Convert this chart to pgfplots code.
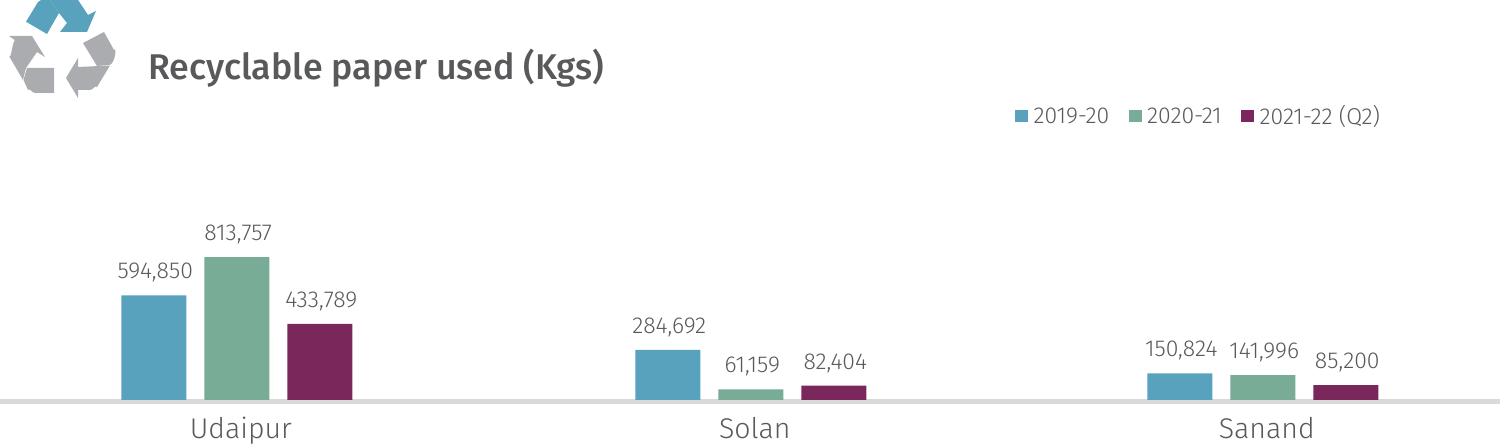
\documentclass[border=0pt]{standalone}
\usepackage{pgfplots}
\pgfplotsset{compat=1.18}
\usepackage{fontspec}
\setmainfont{Fira Sans Light}
\newfontfamily\titlefont{Fira Sans Medium}
\definecolor{cblue}{HTML}{58A2BD}
\definecolor{cgreen}{HTML}{78AC97}
\definecolor{cplum}{HTML}{7A285B}
\definecolor{cgrey}{HTML}{ABACAF}
\definecolor{ctext}{HTML}{58595B}
\definecolor{cbase}{HTML}{D9D9D9}
\begin{document}
\begin{tikzpicture}[x=1pt,y=1pt]
\path[use as bounding box] (0,0) rectangle (1500,444);
\begin{axis}[
  at={(0pt,44pt)}, anchor=south west,
  scale only axis,
  width=1500pt,
  height=400pt,
  xmin=-0.4615, xmax=2.4625,
  ymin=0, ymax=2276600,
  clip=false,
  axis x line=bottom,
  axis y line=none,
  axis x line shift=1.5pt,
  axis line style={draw=cbase,line width=5pt,-},
  xtick=data,
  xticklabels={Udaipur,Solan,Sanand},
  major tick length=0pt,
  x tick label style={font=\fontsize{28.5}{29}\selectfont,text=ctext,xshift=4pt,yshift=-12.5pt},
  ybar=18pt,
  bar width=65pt,
  nodes near coords,
  nodes near coords style={font=\fontsize{23}{24}\selectfont,text=ctext,xshift=1.5pt,yshift=9.5pt,
    /pgf/number format/.cd,fixed,precision=0,1000 sep={,},assume math mode=true},
  legend columns=3,
  legend cell align=left,
  legend style={draw=none,fill=none,at={(1015pt,284pt)},anchor=west,
    font=\fontsize{23}{24}\selectfont\color{ctext},
    inner sep=0pt,outer sep=0pt,
    /tikz/every odd column/.append style={column sep=3.5pt},
    /tikz/every even column/.append style={column sep=17.5pt}},
  legend image code/.code={\fill[#1] (0pt,-6pt) rectangle (13pt,6pt);},
]
\addplot[draw=none,fill=cblue] coordinates {(0,594850) (1.002,284692) (2,150824)};
\addlegendentry{2019-20}
\addplot[draw=none,fill=cgreen] coordinates {(0,813757) (1.002,61159) (2,141996)};
\addlegendentry{2020-21}
\addplot[draw=none,fill=cplum] coordinates {(0,433789) (1.002,82404) (2,85200)};
\addlegendentry{2021-22 (Q2)}
\end{axis}
\node[anchor=west,inner sep=0pt,text=ctext,font=\titlefont\fontsize{35.8}{36}\selectfont] at (148,376) {Recyclable paper used (Kgs)};
% recycling icon, picture pixels with y flipped
\begin{scope}[yshift=444pt,y=-1pt]
\fill[cblue] (26,21.7) -- (38,2) to[out=60,in=180] (45,0) -- (50,0) -- (59,13) -- (47,34) -- cycle;
\fill[cblue] (50,0) -- (78,0) -- (88,15) -- (96,11) -- (87,32) -- (60,32) -- (67,23) -- (59,13) -- cycle;
\fill[cgrey] (83,43) -- (104,32) -- (114,50) to[out=60,in=0] (109,65) -- (97,66) -- cycle;
\fill[cgrey] (78,58) -- (78,67) -- (110,65.5) -- (97,87) to[out=120,in=0] (90,90) -- (78,90) -- (78,98) -- (66,78) -- cycle;
\fill[cgrey] (9,36) -- (32,36) -- (45,57) -- (37,52) -- (26,68) -- (23,80) -- (9,56) to[out=-70,in=120] (16,41) -- cycle;
\fill[cgrey] (27,68) -- (54,68) -- (54,93) -- (35,93) to[out=180,in=60] (28,90) -- (23.5,80) -- cycle;
\end{scope}
\end{tikzpicture}
\end{document}
